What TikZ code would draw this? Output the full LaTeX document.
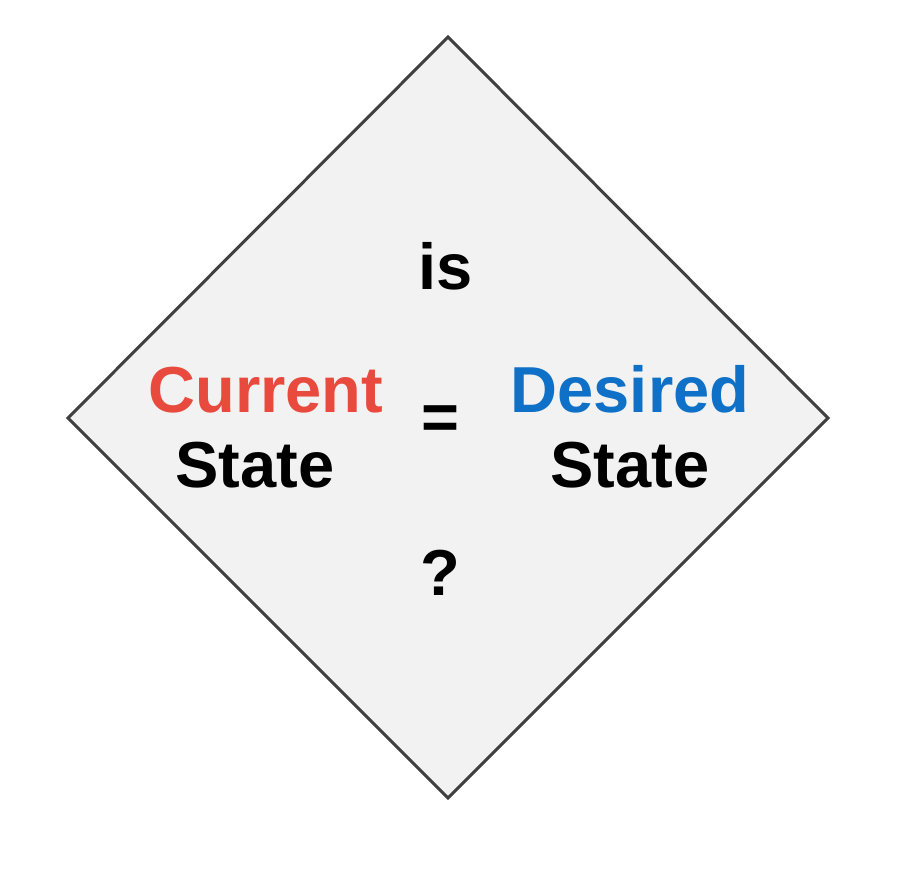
\documentclass[tikz,border=0pt]{standalone}
\usepackage{fontspec}
\setmainfont{Liberation Sans}
\definecolor{curred}{RGB}{232,74,62}
\definecolor{desblue}{RGB}{14,112,198}
\definecolor{dfill}{RGB}{242,242,242}
\definecolor{dline}{RGB}{64,64,64}
\begin{document}
\begin{tikzpicture}[x=1pt,y=1pt,
  lbl/.style={font=\fontsize{65}{65}\selectfont\bfseries, anchor=base, inner sep=0pt}]
\useasboundingbox (0,0) rectangle (915,871);
\coordinate (T) at (448,834);
\coordinate (R) at (828,453);
\coordinate (B) at (448,73);
\coordinate (L) at (68,453);
\draw[line width=3pt, draw=dline, fill=dfill, line join=miter] (T) -- (R) -- (B) -- (L) -- cycle;
\node[lbl] (is) at (446,581) {is};
\node[lbl, text=curred] (cur) at (266,458) {Current};
\node[lbl] (st1) at (255,384) {State};
\node[lbl] (eq) at (440,431) {=};
\node[lbl, text=desblue] (des) at (630,458) {Desired};
\node[lbl] (st2) at (630,384) {State};
\node[lbl] (q) at (440,276) {?};
\end{tikzpicture}
\end{document}
